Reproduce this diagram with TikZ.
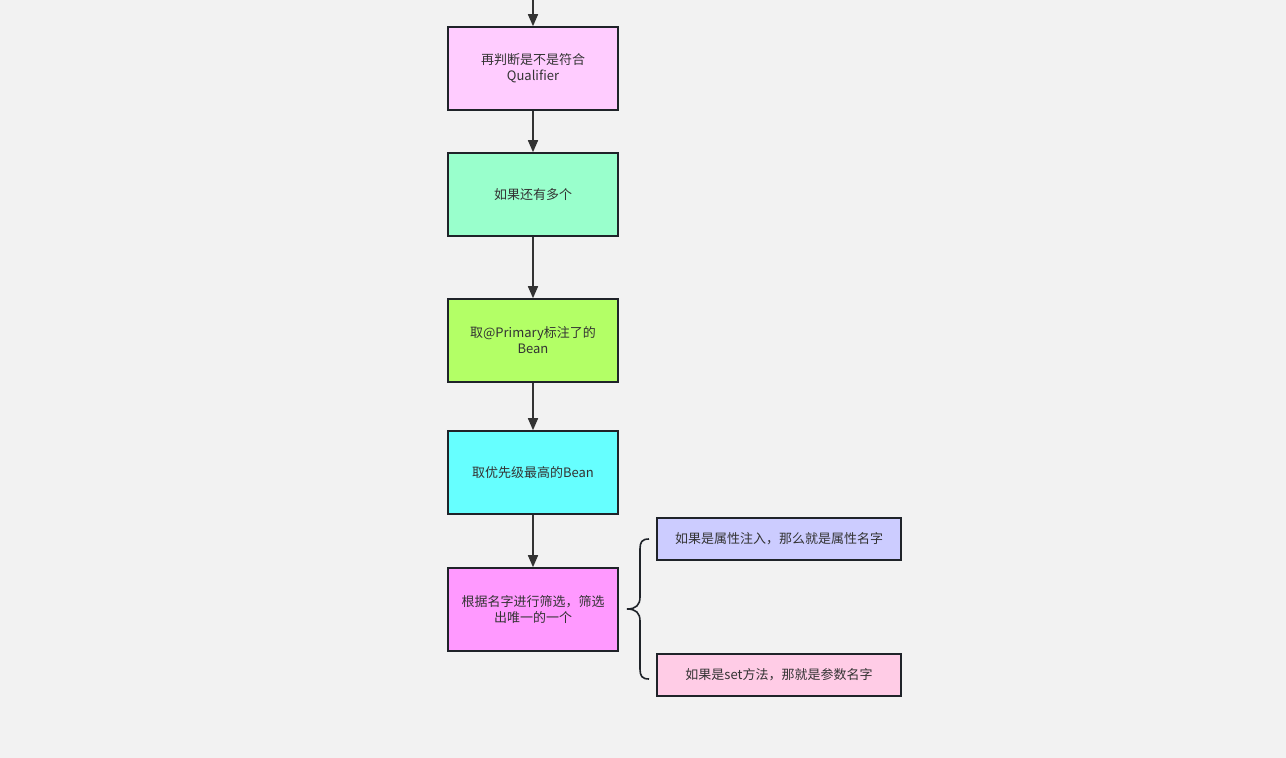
\documentclass[tikz,border=0pt]{standalone}
\usepackage{fontspec}
\setmainfont{Noto Sans CJK SC}
\usetikzlibrary{arrows.meta}
\definecolor{bg}{HTML}{F2F2F2}
\definecolor{edge}{HTML}{1F2329}
\definecolor{txt}{HTML}{333333}
\definecolor{cA}{HTML}{FFCCFF}
\definecolor{cB}{HTML}{99FFCC}
\definecolor{cC}{HTML}{B3FF66}
\definecolor{cD}{HTML}{66FFFF}
\definecolor{cE}{HTML}{FF99FF}
\definecolor{cF}{HTML}{CCCCFF}
\definecolor{cG}{HTML}{FFCCE6}
\tikzset{
  box/.style={draw=edge, line width=1.6pt, minimum width=170pt, minimum height=83pt, inner sep=0pt,
    align=center, text=txt, font=\fontsize{13}{16}\selectfont},
  sidebox/.style={draw=edge, line width=1.6pt, minimum width=244pt, minimum height=42pt, inner sep=0pt,
    align=center, text=txt, font=\fontsize{13}{16}\selectfont},
  flow/.style={draw=txt, line width=1.6pt, -{Triangle[length=12pt,width=10pt]}},
}
\begin{document}
\begin{tikzpicture}[x=1pt,y=-1pt]
\fill[bg] (0,0) rectangle (1286,758);
\useasboundingbox (0,0) rectangle (1286,758);
\node[box, fill=cA] (a) at (533,68.5) {\raisebox{-1pt}{\parbox{160pt}{\centering 再判断是不是符合\\Qualifier}}};
\node[box, fill=cB] (b) at (533,194.5) {\raisebox{-1pt}{如果还有多个}};
\node[box, fill=cC] (c) at (533,340.5) {\raisebox{-1pt}{\parbox{160pt}{\centering 取@Primary标注了的\\Bean}}};
\node[box, fill=cD] (d) at (533,472.5) {\raisebox{-1pt}{取优先级最高的Bean}};
\node[box, fill=cE] (e) at (533,609.5) {\raisebox{-1pt}{\parbox{160pt}{\centering 根据名字进行筛选，筛选\\出唯一的一个}}};
\node[sidebox, fill=cF] (f) at (779,539) {\raisebox{-1pt}{如果是属性注入，那么就是属性名字}};
\node[sidebox, fill=cG] (g) at (779,675) {\raisebox{-1pt}{如果是set方法，那就是参数名字}};
\coordinate (top) at (533,0);
\draw[flow] (top) -- (a.north);
\draw[flow] (a) -- (b);
\draw[flow] (b) -- (c);
\draw[flow] (c) -- (d);
\draw[flow] (d) -- (e);
\draw[edge, line width=1.6pt]
  (649,539) .. controls (642,539) and (640,542) .. (640,549) -- (640,597)
  .. controls (640,605) and (636,609) .. (627,609)
  .. controls (636,609) and (640,613) .. (640,621) -- (640,669)
  .. controls (640,676) and (642,679) .. (649,679);
\end{tikzpicture}
\end{document}
